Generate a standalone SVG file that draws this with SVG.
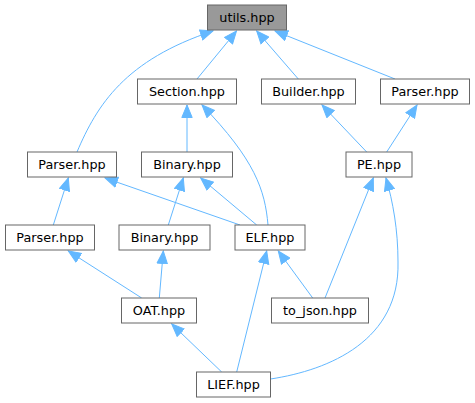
<svg xmlns="http://www.w3.org/2000/svg" width="475" height="403" viewBox="0 0 475 403">
<defs>
<style>
.n rect{fill:#ffffff;stroke:#666666;stroke-width:1}
#utils rect{fill:#999999}
.n text{font-family:"DejaVu Sans",sans-serif;font-size:12.8px;fill:#000000;text-anchor:middle}
#edges path{fill:none;stroke:#63b8ff;stroke-width:1;marker-end:url(#ah)}
</style>
<marker id="ah" markerUnits="userSpaceOnUse" markerWidth="14" markerHeight="12" viewBox="0 -6 13 12" refX="12.5" refY="0" orient="auto">
<path d="M0,-5.2 L12.5,0 L0,5.2 z" fill="#63b8ff" stroke="#63b8ff" stroke-width="1"/>
</marker>
</defs>
<g id="edges">
<path d="M77,152 C97,105 125,60 213,31"/>
<path d="M197,79 L236.5,31"/>
<path d="M298.3,79 L256.7,31"/>
<path d="M395,79 L275,31"/>
<path d="M187,152 L187,105"/>
<path d="M268,225 C265,190 255,160 202,105"/>
<path d="M366.7,152 L322,105"/>
<path d="M386.7,152 L417,105"/>
<path d="M53.3,225 L68.3,178"/>
<path d="M240,225 L105,178"/>
<path d="M168.3,225 L183.3,178"/>
<path d="M256.7,225 L200.7,178"/>
<path d="M141.7,298 L68.3,251"/>
<path d="M159.3,298 L163.3,251"/>
<path d="M221.7,372 L171.7,324"/>
<path d="M236.7,372 L266.7,251"/>
<path d="M312.7,298 L278.3,251"/>
<path d="M325,298 L373.3,178"/>
<path d="M270.5,379 C330,370 400,340 398,262 C398,230 393,202 386,178"/>
</g>
<g id="utils" class="n"><rect x="207.5" y="5" width="79" height="25"/><text x="247" y="21.5">utils.hpp</text></g>
<g id="section" class="n"><rect x="137.5" y="79" width="99" height="25"/><text x="187" y="95.5">Section.hpp</text></g>
<g id="builder" class="n"><rect x="261.5" y="79" width="94" height="25"/><text x="308.5" y="95.5">Builder.hpp</text></g>
<g id="parser_pe" class="n"><rect x="380.5" y="79" width="89" height="25"/><text x="425" y="95.5">Parser.hpp</text></g>
<g id="parser_elf" class="n"><rect x="27.5" y="152" width="89" height="25"/><text x="72" y="168.5">Parser.hpp</text></g>
<g id="binary_elf" class="n"><rect x="141.5" y="152" width="91" height="25"/><text x="187" y="168.5">Binary.hpp</text></g>
<g id="pe" class="n"><rect x="346" y="152" width="66" height="25"/><text x="379" y="168.5">PE.hpp</text></g>
<g id="parser_oat" class="n"><rect x="5.5" y="225" width="89" height="25"/><text x="50" y="241.5">Parser.hpp</text></g>
<g id="binary_oat" class="n"><rect x="119" y="225" width="91" height="25"/><text x="164.5" y="241.5">Binary.hpp</text></g>
<g id="elf" class="n"><rect x="235" y="225" width="70" height="25"/><text x="270" y="241.5">ELF.hpp</text></g>
<g id="oat" class="n"><rect x="121.5" y="298" width="75" height="25"/><text x="159" y="314.5">OAT.hpp</text></g>
<g id="to_json" class="n"><rect x="271.5" y="298" width="97" height="25"/><text x="320" y="314.5">to_json.hpp</text></g>
<g id="lief" class="n"><rect x="196.5" y="372" width="74" height="25"/><text x="233.5" y="388.5">LIEF.hpp</text></g>
</svg>
